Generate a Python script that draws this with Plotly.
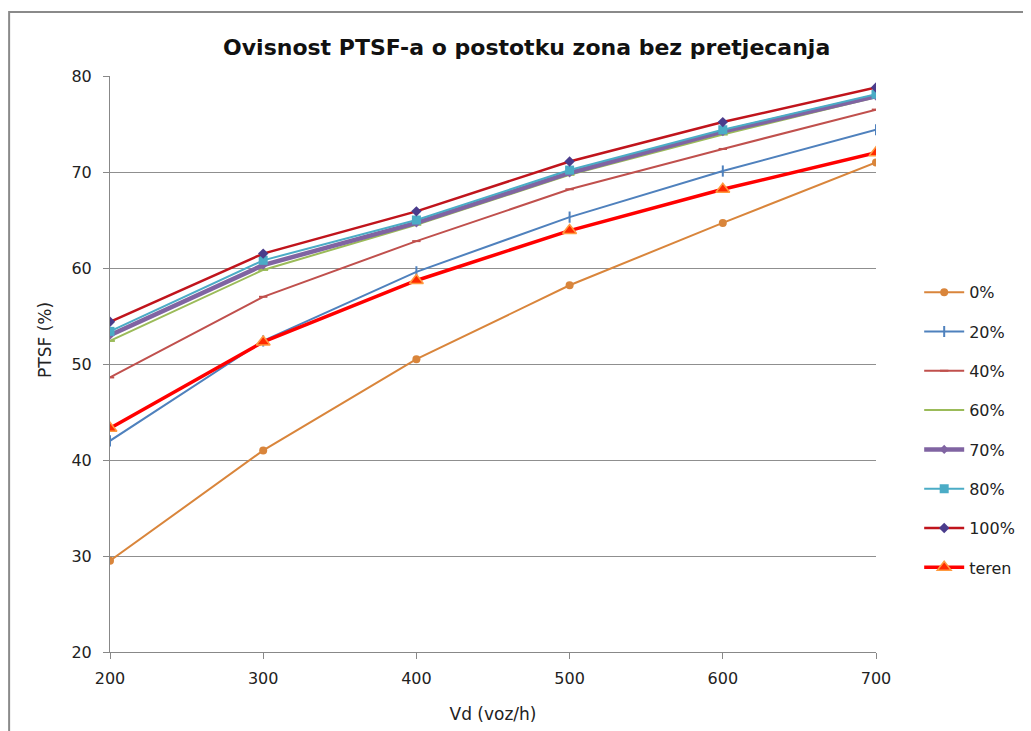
import plotly.graph_objects as go

vd = [200, 300, 400, 500, 600, 700]
series_names = ["0%", "20%", "40%", "60%", "70%", "80%", "100%", "teren"]
s0 = [29.5, 41.0, 50.5, 58.2, 64.7, 71.0]
s20 = [42.0, 52.4, 59.6, 65.3, 70.1, 74.4]
s40 = [48.6, 57.0, 62.8, 68.2, 72.4, 76.5]
s60 = [52.4, 59.8, 64.5, 69.7, 73.9, 77.8]
s70 = [53.0, 60.3, 64.7, 69.9, 74.2, 77.9]
s80 = [53.4, 60.8, 65.0, 70.2, 74.4, 78.1]
s100 = [54.4, 61.5, 65.9, 71.1, 75.2, 78.8]
teren = [43.3, 52.3, 58.7, 63.9, 68.2, 72.0]
values = [s0, s20, s40, s60, s70, s80, s100, teren]

styles = [
    dict(line=dict(color="#D9853B", width=2), marker=dict(symbol="circle", size=8, color="#D9853B")),
    dict(line=dict(color="#4F81BD", width=2), marker=dict(symbol="line-ns", size=8, line=dict(color="#4F81BD", width=2))),
    dict(line=dict(color="#C0504D", width=2), marker=dict(symbol="line-ew", size=6, line=dict(color="#C0504D", width=2))),
    dict(line=dict(color="#9BBB59", width=2), marker=dict(symbol="line-ew", size=7, line=dict(color="#9BBB59", width=2))),
    dict(line=dict(color="#8064A2", width=4.5), marker=dict(symbol="diamond", size=7, color="#8064A2")),
    dict(line=dict(color="#4BACC6", width=2), marker=dict(symbol="square", size=9, color="#4BACC6")),
    dict(line=dict(color="#C0141C", width=2.5), marker=dict(symbol="diamond", size=8, color="#4A3C8C")),
    dict(line=dict(color="#FF0000", width=3.5), marker=dict(symbol="triangle-up", size=12, color="#FF2A00",
                                                              line=dict(color="#FF9A40", width=1.5))),
]

fig = go.Figure()
for i, (name, vals, st) in enumerate(zip(series_names, values, styles)):
    fig.add_trace(go.Scatter(x=vd, y=vals, name=name, mode="lines+markers",
                             legendgroup="g%d" % i, **st))

font_family = "'DejaVu Sans', sans-serif"

fig.update_layout(
    width=1023, height=723,
    margin=dict(l=102, r=154, t=68, b=79),
    paper_bgcolor="white", plot_bgcolor="white",
    font=dict(family=font_family, size=16, color="#222"),
    title=dict(text="<b>Ovisnost PTSF-a o postotku zona bez pretjecanja</b>",
               x=0.507, xanchor="center", y=0.945, yanchor="middle",
               font=dict(size=22, color="#111", family=font_family)),
    showlegend=True,
    legend=dict(x=1.055, xanchor="left", y=0.654, yanchor="top",
                tracegroupgap=15.5, font=dict(size=16, color="#222"),
                itemwidth=40, bgcolor="rgba(0,0,0,0)"),
    xaxis=dict(range=[200, 700], tickmode="array", tickvals=[200, 300, 400, 500, 600, 700],
               showgrid=False,
               showline=True, linecolor="#888", linewidth=1,
               ticks="outside", ticklen=6, tickcolor="#888", ticklabelstandoff=6,
               zeroline=False, fixedrange=True,
               title=dict(text="Vd (voz/h)", font=dict(size=17), standoff=20)),
    yaxis=dict(range=[20, 80], tickmode="array", tickvals=[20, 30, 40, 50, 60, 70, 80],
               showgrid=True, gridcolor="#8F8F8F", gridwidth=1,
               showline=True, linecolor="#888", linewidth=1,
               ticks="outside", ticklen=6, tickcolor="#888", ticklabelstandoff=8,
               zeroline=False, fixedrange=True),
    annotations=[dict(text="PTSF (%)", xref="paper", yref="paper", x=-0.0847, y=0.542,
                      xanchor="center", yanchor="middle", textangle=-90, showarrow=False,
                      font=dict(size=17, color="#222"))],
    shapes=[dict(type="rect", xref="paper", yref="paper",
                 x0=-0.1317, x1=1.3, y0=-0.2, y1=1.111,
                 line=dict(color="#8A8A8A", width=2), fillcolor="rgba(0,0,0,0)", layer="below")],
)

fig.write_html("out.html")
